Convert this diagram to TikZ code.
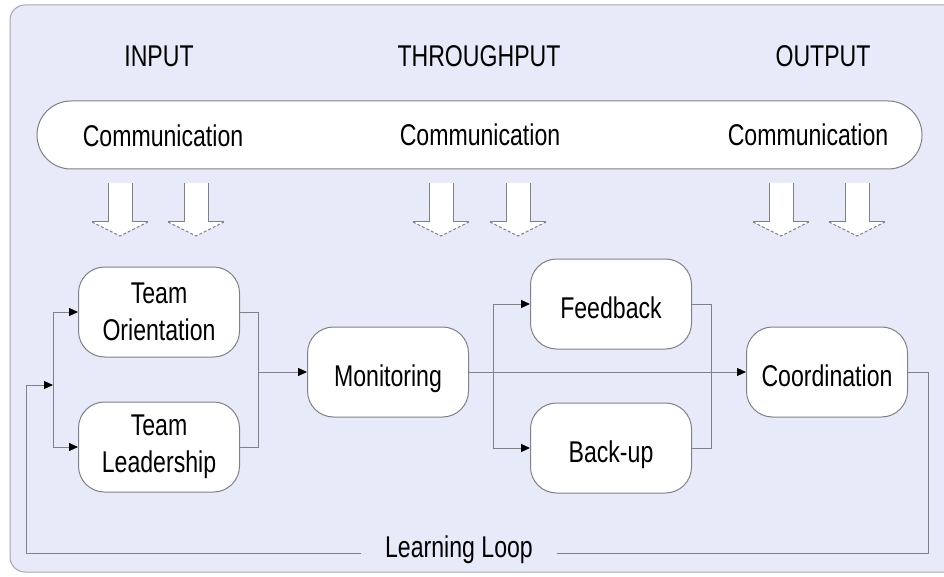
\documentclass[tikz,border=0pt]{standalone}
\usepackage{fontspec}
\setmainfont[FakeStretch=0.77]{Liberation Sans}
\usetikzlibrary{arrows.meta}
\definecolor{panel}{RGB}{231,235,249}
\definecolor{lineg}{RGB}{128,128,136}
\newcommand{\dfont}{\fontsize{30}{37}\selectfont}
\begin{document}
\begin{tikzpicture}[x=1pt,y=-1pt,
  box/.style={draw=lineg,line width=1,fill=white,rounded corners=26,
    minimum width=161,minimum height=90,inner sep=0,align=center,font=\dfont},
  oneline/.style={text height=28,text depth=0},
  lbl/.style={font=\dfont,inner sep=0,anchor=base},
  conn/.style={draw=lineg,line width=1},
  arr/.style={conn,-{Triangle[length=9pt,width=8pt,color=black,fill=black]}},
  blockarrow/.pic={
    \fill[white] (-12,0) -- (-12,39) -- (-28,39) -- (0,53) -- (28,39) -- (12,39) -- (12,0) -- cycle;
    \draw[lineg,line width=1] (-28,39) -- (-12,39) -- (-12,0);
    \draw[lineg,line width=1] (28,39) -- (12,39) -- (12,0);
    \draw[lineg,line width=1,densely dashed] (-28,39) -- (0,53) -- (28,39);
  }]
\useasboundingbox (0,0) rectangle (944,577);
\fill[white] (0,0) rectangle (944,577);
\draw[lineg!70,line width=1,fill=panel,rounded corners=15] (10,5) rectangle (990,572);

% headers
\node[lbl] (hin) at (159,67) {INPUT};
\node[lbl] (hth) at (479,67) {THROUGHPUT};
\node[lbl] (hout) at (823,67) {OUTPUT};

% communication bar
\node[draw=lineg,line width=1,fill=white,rounded corners=34,minimum width=885,
  minimum height=68,inner sep=0] (bar) at (479.5,135) {};
\node[lbl] (c1) at (163,147) {Communication};
\node[lbl] (c2) at (480,146) {Communication};
\node[lbl] (c3) at (808,146) {Communication};

% block arrows
\foreach \bx in {120,196,441,518,781,857}
  \pic at (\bx,183) {blockarrow};

% process boxes
\node[box] (to) at (159,312) {Team\\Orientation};
\node[box] (tl) at (159,447) {Team\\Leadership};
\node[box,oneline] (mon) at (388,372) {Monitoring};
\node[box,oneline] (fb) at (611,304) {Feedback};
\node[box,oneline] (bu) at (611,448) {Back-up};
\node[box,oneline] (co) at (827,372) {Coordination};

% junctions
\coordinate (jL) at (53,385);
\coordinate (jR) at (258,372);
\coordinate (jM) at (493,372);
\coordinate (jF) at (711,372);
\coordinate (lr) at (928,553);
\coordinate (ll) at (26,553);

\draw[conn] (jL |- to.west) -- (jL |- tl.west);
\draw[arr] (jL |- to.west) -- (to.west);
\draw[arr] (jL |- tl.west) -- (tl.west);
\draw[conn] (to.east) -| (jR |- tl.east) -- (tl.east);
\draw[arr] (jR) -- (mon.west);
\draw[arr] (mon.east) -- (co.west);
\draw[conn] (jM |- fb.west) -- (jM |- bu.west);
\draw[arr] (jM |- fb.west) -- (fb.west);
\draw[arr] (jM |- bu.west) -- (bu.west);
\draw[conn] (fb.east) -| (jF |- bu.east) -- (bu.east);
\draw[arr] (co.east) -| (lr) -- (ll) |- (jL);

\node[font=\dfont,fill=panel,inner xsep=24,inner ysep=4,anchor=base] (loop) at (459,557) {Learning Loop};
\end{tikzpicture}
\end{document}
